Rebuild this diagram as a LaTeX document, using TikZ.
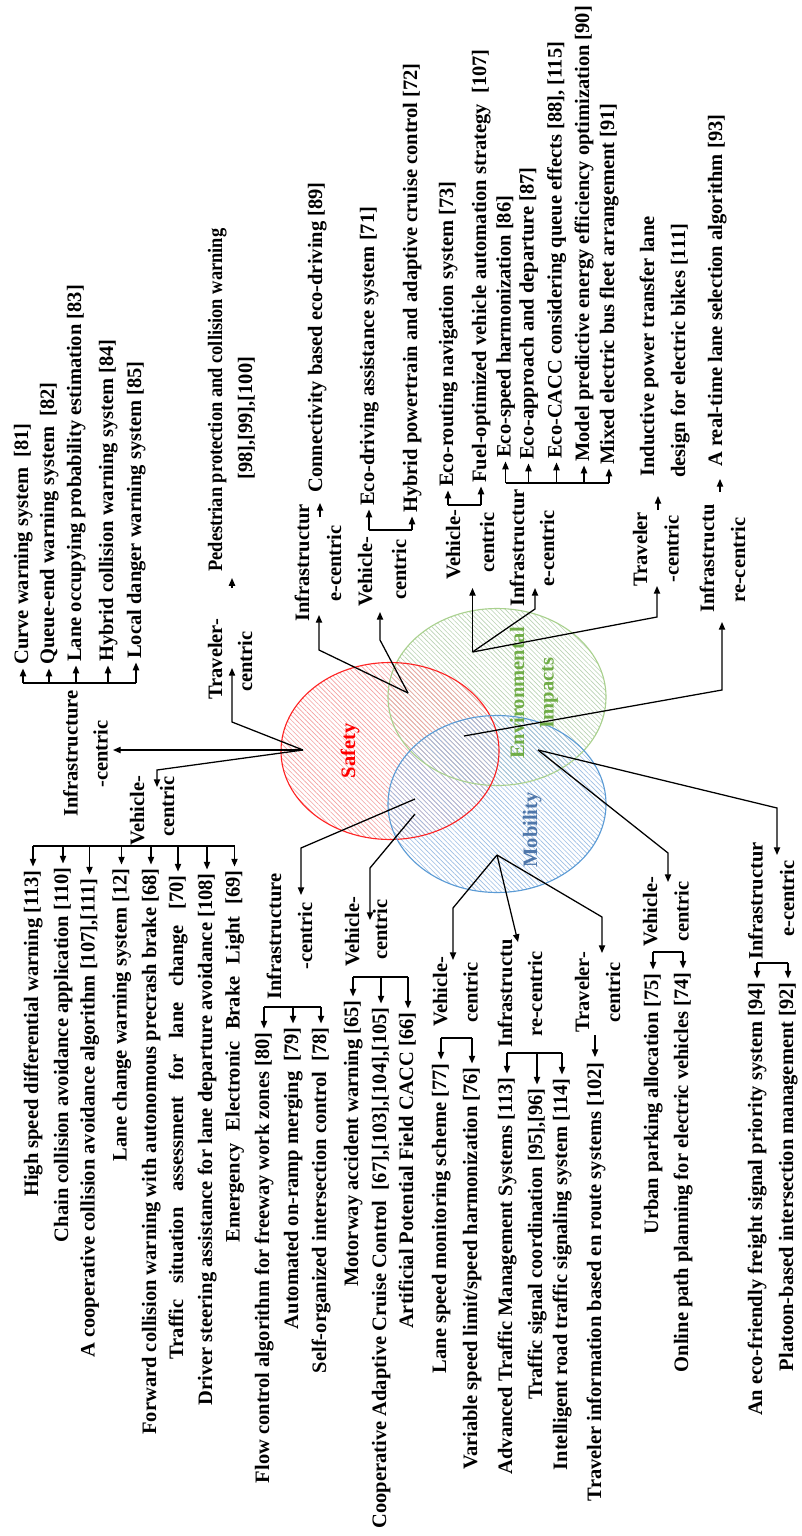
\documentclass[tikz,border=0pt]{standalone}
\usepackage{fontspec}
\setmainfont{Liberation Serif}
\usepackage{xcolor}
\usepackage{tikz}
\usetikzlibrary{arrows.meta,patterns.meta}

\definecolor{safetyRed}{RGB}{255,0,0}
\definecolor{safetyHatch}{RGB}{244,160,160}
\definecolor{envGreen}{RGB}{112,173,71}
\definecolor{envLine}{RGB}{169,209,142}
\definecolor{envHatch}{RGB}{186,211,180}
\definecolor{mobBlue}{RGB}{79,119,170}
\definecolor{mobLine}{RGB}{91,155,213}
\definecolor{mobHatch}{RGB}{155,189,228}

\newcommand{\itemFont}{\fontsize{14.58}{21}\selectfont\bfseries}
\newcommand{\ellRx}{109}
\newcommand{\ellRy}{88.5}

% leaf lists: x / y / text (y = start for arrows from below, end for arrows from above)
\newcommand{\safetyInfraItems}{23/665/{Curve warning system\ \ [81]}, 49/665/{Queue-end warning system\ \ [82]}, 76/662/{Lane occupying probability estimation [83]}, 108/662/{Hybrid collision warning system [84]}, 136/659/{Local danger warning system [85]}}
\newcommand{\safetyVehicleItems}{33/870/{High speed differential warning [113]}, 63/867/{Chain collision avoidance application [110]}, 89.5/878/{A cooperative collision avoidance algorithm [107],[111]}, 121.5/868/{Lane change warning system [12]}, 151/868/{Forward collision warning with autonomous precrash brake [68]}, 178/875/{\makebox[12.1cm][s]{Traffic situation assessment for lane change [70]}}, 207/873/{Driver steering assistance for lane departure avoidance [108]}, 234.5/870/{\makebox[9.3cm][s]{Emergency Electronic Brake Light [69]}}}
\newcommand{\safetyFlowItems}{264/1032/{Flow control algorithm for freeway work zones [80]}, 293/1027/{Automated on-ramp merging\ \ [79]}, 321/1027/{Self-organized intersection control\ \ [78]}}
\newcommand{\safetyMotorItems}{353/1000/{Motorway accident warning [65]}, 381/1007/{Cooperative Adaptive Cruise Control\ \ [67],[103],[104],[105]}, 408/1012/{Artificial Potential Field CACC [66]}}
\newcommand{\ecoDrivingItems}{369/506/{Eco-driving assistance system [71]}, 412/513/{Hybrid powertrain and adaptive cruise control [72]}}
\newcommand{\ecoRoutingItems}{448/487/{Eco-routing navigation system [73]}, 481/483/{Fuel-optimized vehicle automation strategy\ \ [107]}}
\newcommand{\ecoSpeedItems}{505.5/458/{Eco-speed harmonization [86]}, 528.5/460/{Eco-approach and departure [87]}, 556.5/459/{Eco-CACC considering queue effects [88], [115]}, 584/462/{Model predictive energy efficiency optimization [90]}, 609/465/{Mixed electric bus fleet arrangement [91]}}
\newcommand{\laneSpeedItems}{441/1063/{Lane speed monitoring scheme [77]}, 472/1067/{Variable speed limit/speed harmonization [76]}}
\newcommand{\trafficMgmtItems}{507/1077/{Advanced Traffic Management Systems [113]}, 537/1088/{Traffic signal coordination [95],[96]}, 562/1078/{Intelligent road traffic signaling system [114]}}
\newcommand{\parkingItems}{653/973/{Urban parking allocation [75]}, 683/972/{Online path planning for electric vehicles [74]}}
\newcommand{\freightItems}{757/982/{An eco-friendly freight signal priority system [94]}, 788/982/{Platoon-based intersection management [92]}}

\begin{document}
\begin{tikzpicture}[x=0.025cm, y=-0.025cm,
	leaftext/.style={font=\itemFont, rotate=90, inner sep=0pt, text height=10.2pt, text depth=2.9pt},
	arr/.style={line width=0.9pt, -{Triangle[length=5.5pt,width=4.5pt]}},
	leafarr/.style={arr, shorten >=2.5pt},
	barline/.style={line width=0.9pt},
	hatchfill/.style={pattern={Lines[angle=-45,distance=2.4pt,line width=0.45pt]}}]
	\fill[white] (0,0) rectangle (801,1536);
	\useasboundingbox (0,0) rectangle (801,1536);
	
	% the three sets
	\coordinate (safetyC) at (390,751);
	\coordinate (envC) at (497,697);
	\coordinate (mobC) at (497,804);
	\fill[hatchfill, pattern color=envHatch] (envC) ellipse [x radius=\ellRx, y radius=\ellRy];
	\fill[hatchfill, pattern color=safetyHatch] (safetyC) ellipse [x radius=\ellRx, y radius=\ellRy];
	\fill[hatchfill, pattern color=mobHatch] (mobC) ellipse [x radius=\ellRx, y radius=\ellRy];
	\draw[envLine, line width=0.8pt] (envC) ellipse [x radius=\ellRx, y radius=\ellRy];
	\draw[safetyRed, line width=0.8pt, draw opacity=0.85] (safetyC) ellipse [x radius=\ellRx, y radius=\ellRy];
	\draw[mobLine, line width=0.8pt] (mobC) ellipse [x radius=\ellRx, y radius=\ellRy];
	
	\node[leaftext, text=safetyRed] (safetyLbl) at (350,751) {Safety};
	\node[font=\itemFont, rotate=90, inner sep=0pt, align=center, text=envGreen] (envLbl) at (534,693) {Environmental\\Impacts};
	\node[leaftext, text=mobBlue] (mobLbl) at (532,830) {Mobility};
	
	% junctions inside the sets
	\coordinate (pS) at (303,750);
	\coordinate (pSE) at (408,693);
	\coordinate (pE) at (472.5,652);
	\coordinate (pC) at (464,736);
	\coordinate (pSMa) at (415,799);
	\coordinate (pSMb) at (415,814);
	\coordinate (pM) at (497,855);
	\coordinate (pEM) at (538,750);
	
	% arrow tips at the category labels
	\coordinate (siTip) at (113,750);
	\coordinate (stTip) at (232,668);
	\coordinate (svTip) at (157,787);
	\coordinate (flTip) at (301,895);
	\coordinate (fvTip) at (370,920);
	\coordinate (seiTip) at (319,615);
	\coordinate (sevTip) at (380,612);
	\coordinate (evTip) at (472.5,588);
	\coordinate (eiTip) at (535,588);
	\coordinate (etTip) at (657,586);
	\coordinate (erTip) at (722,622);
	\coordinate (mvTip) at (453,960);
	\coordinate (miTip) at (518,942);
	\coordinate (mtTip) at (602,953);
	\coordinate (mwTip) at (668,882);
	\coordinate (mjTip) at (777,855);
	
	% category labels
	\node[leaftext, anchor=west] (siA) at (72.5,817) {Infrastructure};
	\node[leaftext, anchor=west] (siB) at (102.5,788) {-centric};
	\node[leaftext, anchor=west] (svA) at (139,846) {Vehicle-};
	\node[leaftext, anchor=west] (svB) at (169,837) {centric};
	\node[leaftext, anchor=west] (stA) at (217,700) {Traveler-};
	\node[leaftext, anchor=west] (stB) at (247,692) {centric};
	\node[leaftext, anchor=west] (flA) at (276,1000) {Infrastructure};
	\node[leaftext, anchor=west] (flB) at (307,970) {-centric};
	\node[leaftext, anchor=west] (fvA) at (354,967) {Vehicle-};
	\node[leaftext, anchor=west] (fvB) at (382,960) {centric};
	\node[leaftext, anchor=west] (seiA) at (304,622) {Infrastructur};
	\node[leaftext, anchor=west] (seiB) at (336,602) {e-centric};
	\node[leaftext, anchor=west] (sevA) at (367,607) {Vehicle-};
	\node[leaftext, anchor=west] (sevB) at (401,600) {centric};
	\node[leaftext, anchor=west] (evA) at (455,580) {Vehicle-};
	\node[leaftext, anchor=west] (evB) at (489,573) {centric};
	\node[leaftext, anchor=west] (eiA) at (519,607) {Infrastructur};
	\node[leaftext, anchor=west] (eiB) at (549,587) {e-centric};
	\node[leaftext, anchor=west] (etA) at (642,587) {Traveler};
	\node[leaftext, anchor=west] (etB) at (673.5,583) {-centric};
	\node[leaftext, anchor=west] (erA) at (709,613) {Infrastructu};
	\node[leaftext, anchor=west] (erB) at (740,603) {re-centric};
	\node[leaftext, anchor=west] (mvA) at (442,1027) {Vehicle-};
	\node[leaftext, anchor=west] (mvB) at (472.5,1023) {centric};
	\node[leaftext, anchor=west] (miA) at (507,1048) {Infrastructu};
	\node[leaftext, anchor=west] (miB) at (537,1037) {re-centric};
	\node[leaftext, anchor=west] (mtA) at (584,1033) {Traveler-};
	\node[leaftext, anchor=west] (mtB) at (615,1023) {centric};
	\node[leaftext, anchor=west] (mwA) at (652,947) {Vehicle-};
	\node[leaftext, anchor=west] (mwB) at (683.5,942) {centric};
	\node[leaftext, anchor=west] (mjA) at (757.5,960) {Infrastructur};
	\node[leaftext, anchor=west] (mjB) at (789,937) {e-centric};
	
	% connectors from the sets
	\draw[arr] (pS) -- (siTip);
	\draw[arr] (pS) -- (232,722) -- (stTip);
	\draw[arr] (pS) -- (157,770) -- (svTip);
	\draw[arr] (pSMa) -- (301,848) -- (flTip);
	\draw[arr] (pSMb) -- (370,868) -- (fvTip);
	\draw[arr] (pSE) -- (319,650) -- (seiTip);
	\draw[arr] (pSE) -- (380,640) -- (sevTip);
	\draw[arr] (pE) -- (evTip);
	\draw[arr] (pE) -- (535,609) -- (eiTip);
	\draw[arr] (pE) -- (657,617) -- (etTip);
	\draw[arr] (pC) -- (722,690) -- (erTip);
	\draw[arr] (pM) -- (453,908) -- (mvTip);
	\draw[arr] (pM) -- (miTip);
	\draw[arr] (pM) -- (602,917) -- (mtTip);
	\draw[arr] (pEM) -- (668,853) -- (mwTip);
	\draw[arr] (pEM) -- (777,808) -- (mjTip);
	
	% single leaves
	\node[leaftext, anchor=west] (ped) at (217,572) {\scalebox{0.9}[1]{Pedestrian protection and collision warning}};
	\node[leaftext, anchor=west] (pedB) at (247,480) {[98],[99],[100]};
	\node[leaftext, anchor=west] (conn) at (317,493) {Connectivity based eco-driving [89]};
	\node[leaftext, anchor=west] (ind) at (649,477) {Inductive power transfer lane};
	\node[leaftext, anchor=west] (indB) at (680,478) {design for electric bikes [111]};
	\node[leaftext, anchor=west] (rtl) at (717,467) {A real-time lane selection algorithm [93]};
	\node[leaftext, anchor=east] (tri) at (596,1062) {Traveler information based en route systems [102]};
	\coordinate (pedFrom) at (232,588);
	\coordinate (connFrom) at (320,517);
	\coordinate (indFrom) at (658,510);
	\coordinate (rtlFrom) at (720,492);
	\coordinate (triFrom) at (595,1035);
	\draw[arr, shorten >=4.3pt] (pedFrom) -- (ped.west -| pedFrom);
	\draw[arr, shorten >=7.1pt] (connFrom) -- (conn.west -| connFrom);
	\draw[arr, shorten >=13.5pt] (indFrom) -- (ind.west -| indFrom);
	\draw[arr, shorten >=8.5pt] (rtlFrom) -- (rtl.west -| rtlFrom);
	\draw[arr, shorten >=3.5pt] (triFrom) -- (tri.east -| triFrom);
	
	% bracketed leaves
	\foreach \itemX/\itemY/\itemText [count=\i] in \safetyInfraItems
	{
		\node[leaftext, anchor=west] (si\i) at (\itemX,\itemY) {\itemText};
		\draw[leafarr] (\itemX,683) -- (si\i.west);
	}
	\draw[barline] (si1.west |- 0,683) -- (si5.west |- 0,683);
	
	\foreach \itemX/\itemY/\itemText [count=\i] in \safetyVehicleItems
	{
		\node[leaftext, anchor=east] (sv\i) at (\itemX,\itemY) {\itemText};
		\draw[leafarr] (\itemX,846) -- (sv\i.east);
	}
	\draw[barline] (sv1.east |- 0,846) -- (sv8.east |- 0,846);
	
	\foreach \itemX/\itemY/\itemText [count=\i] in \safetyFlowItems
	{
		\node[leaftext, anchor=east] (fl\i) at (\itemX,\itemY) {\itemText};
		\draw[leafarr] (\itemX,1007) -- (fl\i.east);
	}
	\draw[barline] (fl1.east |- 0,1007) -- (fl3.east |- 0,1007);
	
	\foreach \itemX/\itemY/\itemText [count=\i] in \safetyMotorItems
	{
		\node[leaftext, anchor=east] (fv\i) at (\itemX,\itemY) {\itemText};
		\draw[leafarr] (\itemX,977) -- (fv\i.east);
	}
	\draw[barline] (fv1.east |- 0,977) -- (fv3.east |- 0,977);
	
	\foreach \itemX/\itemY/\itemText [count=\i] in \ecoDrivingItems
	{
		\node[leaftext, anchor=west] (sev\i) at (\itemX,\itemY) {\itemText};
		\draw[leafarr] (\itemX,530) -- (sev\i.west);
	}
	\draw[barline] (sev1.west |- 0,530) -- (sev2.west |- 0,530);
	
	\foreach \itemX/\itemY/\itemText [count=\i] in \ecoRoutingItems
	{
		\node[leaftext, anchor=west] (ev\i) at (\itemX,\itemY) {\itemText};
		\draw[leafarr] (\itemX,505) -- (ev\i.west);
	}
	\draw[barline] (ev1.west |- 0,505) -- (ev2.west |- 0,505);
	
	\foreach \itemX/\itemY/\itemText [count=\i] in \ecoSpeedItems
	{
		\node[leaftext, anchor=west] (ei\i) at (\itemX,\itemY) {\itemText};
		\draw[leafarr] (\itemX,483) -- (ei\i.west);
	}
	\draw[barline] (ei1.west |- 0,483) -- (ei5.west |- 0,483);
	
	\foreach \itemX/\itemY/\itemText [count=\i] in \laneSpeedItems
	{
		\node[leaftext, anchor=east] (mv\i) at (\itemX,\itemY) {\itemText};
		\draw[leafarr] (\itemX,1038) -- (mv\i.east);
	}
	\draw[barline] (mv1.east |- 0,1038) -- (mv2.east |- 0,1038);
	
	\foreach \itemX/\itemY/\itemText [count=\i] in \trafficMgmtItems
	{
		\node[leaftext, anchor=east] (mi\i) at (\itemX,\itemY) {\itemText};
		\draw[leafarr] (\itemX,1053) -- (mi\i.east);
	}
	\draw[barline] (mi1.east |- 0,1053) -- (mi3.east |- 0,1053);
	
	\foreach \itemX/\itemY/\itemText [count=\i] in \parkingItems
	{
		\node[leaftext, anchor=east] (mw\i) at (\itemX,\itemY) {\itemText};
		\draw[leafarr] (\itemX,952) -- (mw\i.east);
	}
	\draw[barline] (mw1.east |- 0,952) -- (mw2.east |- 0,952);
	
	\foreach \itemX/\itemY/\itemText [count=\i] in \freightItems
	{
		\node[leaftext, anchor=east] (mj\i) at (\itemX,\itemY) {\itemText};
		\draw[leafarr] (\itemX,963) -- (mj\i.east);
	}
	\draw[barline] (mj1.east |- 0,963) -- (mj2.east |- 0,963);
\end{tikzpicture}
\end{document}
